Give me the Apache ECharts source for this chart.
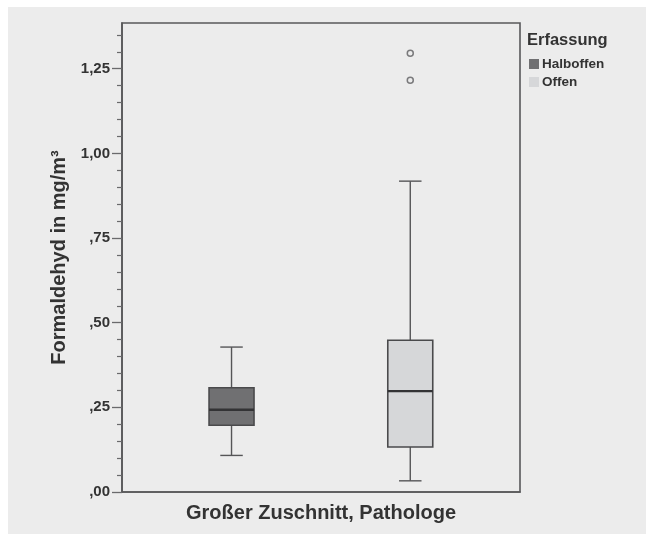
<!DOCTYPE html>
<html>
<head>
<meta charset="utf-8">
<script src="https://cdn.jsdelivr.net/npm/echarts@6/dist/echarts.min.js"></script>
<style>
html,body{margin:0;padding:0;background:#ffffff;}
#bg{position:absolute;left:8px;top:7px;width:638px;height:527px;background:#ececec;}
#chart{position:absolute;left:0;top:0;width:646px;height:534px;}
</style>
</head>
<body>
<div id="bg"></div>
<div id="chart"></div>
<script>
// ---- data ----
const categories = ['Großer Zuschnitt, Pathologe'];
const seriesNames = ['Halboffen', 'Offen'];
// [min, Q1, median, Q3, max]
const halboffenBox = [0.108, 0.197, 0.243, 0.308, 0.428];
const offenBox = [0.033, 0.133, 0.298, 0.448, 0.918];
const offenOutliers = [1.296, 1.216];
const majorTicks = [0, 0.25, 0.5, 0.75, 1.0, 1.25];
const majorTickLabels = [',00', ',25', ',50', ',75', '1,00', '1,25'];
const minorTicks = [0.05, 0.10, 0.15, 0.20, 0.30, 0.35, 0.40, 0.45, 0.55, 0.60, 0.65, 0.70,
  0.80, 0.85, 0.90, 0.95, 1.05, 1.10, 1.15, 1.20, 1.30, 1.35];
const yMax = 1.385;

const FONT = '"Liberation Sans", Arial, Helvetica, sans-serif';
const colors = ['#707072', '#d6d7d9'];
const offsets = [-0.2248, 0.2243]; // fraction of band width
const boxFrac = 0.113;

function boxRender(offsetFrac, fill) {
  return function (params, api) {
    const band = api.size([1, 0])[0];
    const cat = api.value(0);
    const cx = api.coord([cat, 0])[0] + offsetFrac * band;
    const half = band * boxFrac / 2;
    const capHalf = half / 2;
    const y = (i) => api.coord([cat, api.value(i)])[1];
    const yMin = y(1), yQ1 = y(2), yMed = y(3), yQ3 = y(4), yMx = y(5);
    const wStyle = { stroke: '#555557', lineWidth: 1.4, fill: null };
    return {
      type: 'group',
      children: [
        { type: 'line', shape: { x1: cx, y1: yQ3, x2: cx, y2: yMx }, style: wStyle },
        { type: 'line', shape: { x1: cx, y1: yQ1, x2: cx, y2: yMin }, style: wStyle },
        { type: 'line', shape: { x1: cx - capHalf, y1: yMx, x2: cx + capHalf, y2: yMx }, style: wStyle },
        { type: 'line', shape: { x1: cx - capHalf, y1: yMin, x2: cx + capHalf, y2: yMin }, style: wStyle },
        { type: 'rect', shape: { x: cx - half, y: yQ3, width: 2 * half, height: yQ1 - yQ3 },
          style: { fill: fill, stroke: '#4a4a4c', lineWidth: 1.6 } },
        { type: 'line', shape: { x1: cx - half, y1: yMed, x2: cx + half, y2: yMed },
          style: { stroke: '#333335', lineWidth: 2.4 } }
      ]
    };
  };
}

function outlierRender(offsetFrac) {
  return function (params, api) {
    const band = api.size([1, 0])[0];
    const p = api.coord([api.value(0), api.value(1)]);
    return {
      type: 'circle',
      shape: { cx: p[0] + offsetFrac * band, cy: p[1], r: 3 },
      style: { fill: null, stroke: '#7a7a7c', lineWidth: 1.5 }
    };
  };
}

const chart = echarts.init(document.getElementById('chart'), null, { renderer: 'canvas' });
chart.setOption({
  backgroundColor: 'transparent',
  animation: false,
  title: {
    text: 'Erfassung', left: 522, top: 27,
    textStyle: { fontFamily: FONT, fontWeight: 'bold', fontSize: 16.5, color: '#333' }
  },
  legend: {
    data: seriesNames,
    orient: 'vertical', left: 529, top: 57, padding: 0,
    icon: 'rect', itemWidth: 10, itemHeight: 10, itemGap: 4,
    textStyle: { fontFamily: FONT, fontWeight: 'bold', fontSize: 13.5, color: '#333', padding: [0, 0, 0, -2] },
    selectedMode: false
  },
  grid: {
    left: 122, top: 23, right: 126, bottom: 42,
    show: true, borderColor: '#58585a', borderWidth: 1.6, backgroundColor: '#ececec'
  },
  xAxis: {
    type: 'category', data: categories,
    axisTick: { show: false },
    axisLine: { lineStyle: { color: '#58585a', width: 1.6 } },
    axisLabel: { margin: 11, fontFamily: FONT, fontWeight: 'bold', fontSize: 20, color: '#333' }
  },
  yAxis: [{
    type: 'value', min: 0, max: yMax, interval: 0.25,
    name: 'Formaldehyd in mg/m³', nameLocation: 'middle', nameGap: 52,
    nameTextStyle: { fontFamily: FONT, fontWeight: 'bold', fontSize: 20, color: '#333' },
    axisLine: { show: true, lineStyle: { color: '#58585a', width: 1.6 } },
    axisTick: { show: true, length: 10, customValues: majorTicks, lineStyle: { color: '#6a6a6c', width: 1.3 } },
    axisLabel: {
      margin: 12, customValues: majorTicks, fontFamily: FONT, fontWeight: 'bold', fontSize: 15, color: '#333',
      formatter: function (v) {
        for (let i = 0; i < majorTicks.length; i++) {
          if (Math.abs(v - majorTicks[i]) < 1e-6) return majorTickLabels[i];
        }
        return '';
      }
    },
    splitLine: { show: false }
  }, {
    type: 'value', min: 0, max: yMax, interval: 0.05, position: 'left',
    axisLine: { show: false },
    axisTick: { show: true, length: 5, customValues: minorTicks, lineStyle: { color: '#6a6a6c', width: 1.2 } },
    axisLabel: { show: false },
    splitLine: { show: false }
  }],
  series: [
    {
      name: seriesNames[0], type: 'custom', xAxisIndex: 0, yAxisIndex: 0,
      itemStyle: { color: colors[0] },
      renderItem: boxRender(offsets[0], colors[0]),
      encode: { x: 0, y: [1, 2, 3, 4, 5] },
      data: [[0].concat(halboffenBox)]
    },
    {
      name: seriesNames[1], type: 'custom', xAxisIndex: 0, yAxisIndex: 0,
      itemStyle: { color: colors[1] },
      renderItem: boxRender(offsets[1], colors[1]),
      encode: { x: 0, y: [1, 2, 3, 4, 5] },
      data: [[0].concat(offenBox)]
    },
    {
      name: 'Offen Ausreißer', type: 'custom', xAxisIndex: 0, yAxisIndex: 0,
      renderItem: outlierRender(offsets[1]),
      encode: { x: 0, y: 1 },
      data: offenOutliers.map(v => [0, v])
    }
  ]
});
</script>
</body>
</html>
